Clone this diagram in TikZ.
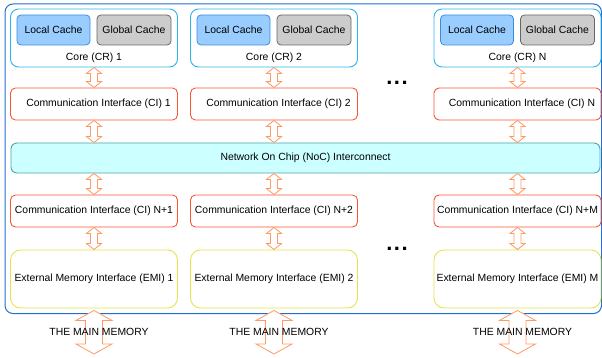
\documentclass[tikz,border=0pt]{standalone}
\usepackage{fontspec}
\setmainfont{Liberation Sans}
\usetikzlibrary{calc,positioning}

\definecolor{chipblue}{HTML}{1F6FD6}
\definecolor{coreblue}{HTML}{2AB4EA}
\definecolor{localfill}{HTML}{99CCFF}
\definecolor{localdraw}{HTML}{3A8EE0}
\definecolor{globalfill}{HTML}{CCCCCC}
\definecolor{globaldraw}{HTML}{666666}
\definecolor{ciorange}{HTML}{FA5530}
\definecolor{linkorange}{HTML}{FF9966}
\definecolor{nocfill}{HTML}{CCFFFF}
\definecolor{nocdraw}{HTML}{4DA6A6}
\definecolor{emiyellow}{HTML}{E3E34A}

% hollow two-way arrow: top, bottom, head half width, shaft half width, head length
\newcommand{\dlink}[5]{%
  \draw[link] let \p1=(#1), \p2=(#2) in
    (\x1,\y1) -- (\x1+#3,\y1-#5) -- (\x1+#4,\y1-#5) -- (\x1+#4,\y2+#5)
    -- (\x1+#3,\y2+#5) -- (\x1,\y2) -- (\x1-#3,\y2+#5) -- (\x1-#4,\y2+#5)
    -- (\x1-#4,\y1-#5) -- (\x1-#3,\y1-#5) -- cycle;}

\begin{document}
\begin{tikzpicture}[
x=1pt, y=-1pt,
font=\fontsize{10.4}{12}\selectfont,
chip/.style={draw=chipblue, line width=1pt, rounded corners=8pt},
core/.style={draw=coreblue, line width=0.9pt, rounded corners=8pt, minimum width=167pt, minimum height=58pt, inner sep=0pt},
localcache/.style={draw=localdraw, fill=localfill, line width=0.8pt, rounded corners=4pt, minimum width=73pt, minimum height=30pt, inner sep=0pt},
globalcache/.style={draw=globaldraw, fill=globalfill, line width=0.8pt, rounded corners=4pt, minimum width=74pt, minimum height=30pt, inner sep=0pt},
ci/.style={draw=ciorange, line width=0.9pt, rounded corners=5pt, minimum width=167pt, minimum height=32pt, inner sep=0pt},
noc/.style={draw=nocdraw, fill=nocfill, line width=0.9pt, rounded corners=6pt, minimum width=589pt, minimum height=30pt, inner sep=0pt},
emi/.style={draw=emiyellow, line width=0.9pt, rounded corners=10pt, minimum width=167pt, minimum height=58pt, inner sep=0pt},
link/.style={draw=linkorange, fill=white, line width=0.8pt, line join=miter},
dots/.style={font=\fontsize{22}{22}\selectfont\bfseries}
]
    \useasboundingbox (0,0) rectangle (602,358);

    % Draw chip frame
    \draw[chip] (5,4) rectangle (601.5,313.5);

    \node[noc] (noc) at (305.5,158) {Network On Chip (NoC) Interconnect};

    % Columns
    \foreach \cx/\i/\a/\b/\c in {94/1/1/N+1/1, 274/2/2/N+2/2, 517.5/3/N/N+M/M}{
        \node[core] (cr\i) at (\cx,38) {};
        \node[localcache] (lc\i) at (\cx-40.5,30) {Local Cache};
        \node[globalcache] (gc\i) at (\cx+40,30) {Global Cache};
        \node (crl\i) at (\cx,57.5) {Core (CR) \a};
        \node[ci] (ci\i) at (\cx,104) {\hspace*{9pt}Communication Interface (CI) \a};
        \node[ci] (cj\i) at (\cx,211) {Communication Interface (CI) \b};
        \node[emi] (emi\i) at (\cx,279) {External Memory Interface (EMI) \c};
        \coordinate (mm\i) at (\cx,354);
    }

    % Links
    \foreach \i in {1,2,3}{
        \dlink{cr\i.south}{ci\i.north}{7.5pt}{3.5pt}{6pt}
        \dlink{ci\i.south}{ci\i.south |- noc.north}{7.5pt}{3.5pt}{6pt}
        \dlink{cj\i.north |- noc.south}{cj\i.north}{7.5pt}{3.5pt}{6pt}
        \dlink{cj\i.south}{emi\i.north}{7.5pt}{3.5pt}{6pt}
        \dlink{[yshift=-2pt]emi\i.south}{mm\i}{18pt}{8.5pt}{10pt}
    }

    \node (mem1) at (99,332) {THE MAIN MEMORY};
    \node (mem2) at (279,332) {THE MAIN MEMORY};
    \node (mem3) at (522.5,332) {THE MAIN MEMORY};

    \node[dots] (dots1) at (397,83) {.\kern1.5pt.\kern1.5pt.};
    \node[dots] (dots2) at (397,249) {.\kern1.5pt.\kern1.5pt.};

\end{tikzpicture}
\end{document}
